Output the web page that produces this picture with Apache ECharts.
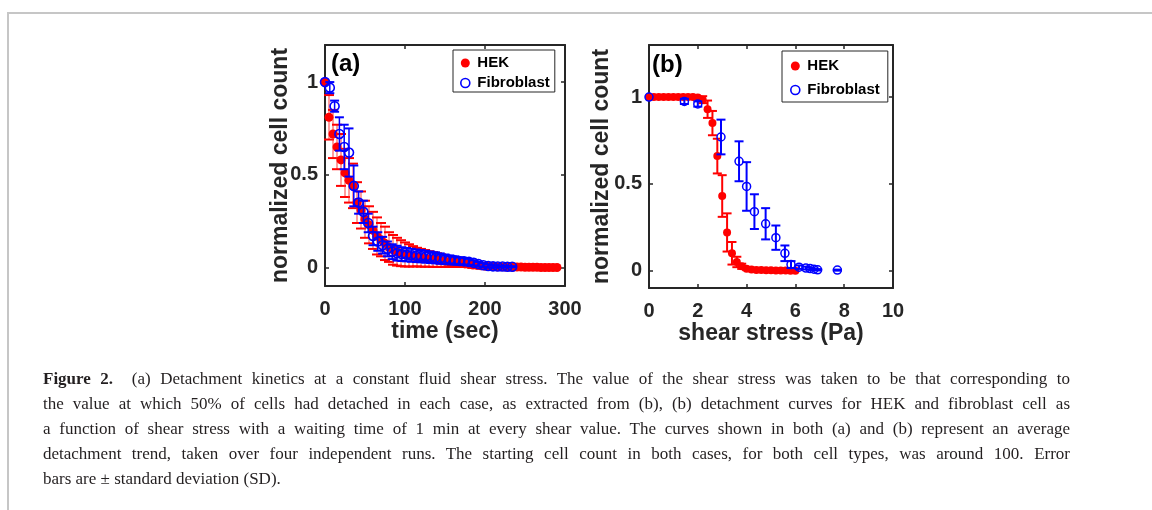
<!DOCTYPE html>
<html><head><meta charset="utf-8">
<script src="https://cdn.jsdelivr.net/npm/echarts@6/dist/echarts.min.js"></script>
<style>
html,body{margin:0;padding:0;background:#fff;}
#wrap{position:relative;width:1152px;height:510px;overflow:hidden;}
#chart{position:absolute;left:0;top:0;width:1152px;height:510px;}
#frame{position:absolute;left:7px;top:12px;width:1300px;height:700px;border-top:2px solid #c6c6c6;border-left:2px solid #c6c6c6;}
#caption{position:absolute;left:43px;top:366px;width:1027px;font-family:'Liberation Serif','DejaVu Serif',serif;font-size:17px;line-height:25px;color:#231f20;}
#caption div{text-align:justify;text-align-last:justify;height:25px;}
#caption div.last{text-align:left;text-align-last:left;}
</style>
</head><body>
<div id="wrap">
<div id="frame"></div>
<div id="chart"></div>
<div id="caption">
<div><b>Figure 2.</b>&nbsp; (a) Detachment kinetics at a constant fluid shear stress. The value of the shear stress was taken to be that corresponding to</div>
<div>the value at which 50% of cells had detached in each case, as extracted from (b), (b) detachment curves for HEK and fibroblast cell as</div>
<div>a function of shear stress with a waiting time of 1 min at every shear value. The curves shown in both (a) and (b) represent an average</div>
<div>detachment trend, taken over four independent runs. The starting cell count in both cases, for both cell types, was around 100. Error</div>
<div class="last">bars are ± standard deviation (SD).</div>
</div>
</div>
<script>
// ---------- Panel (a): detachment kinetics ----------
const hekTimeA = [0,5,10,15,20,25,30,35,40,45,50,55,60,65,70,75,80,85,90,95,100,105,110,115,120,125,130,135,140,145,150,155,160,165,170,175,180,185,190,195,200,205,210,215,220,225,230,235,240,245,250,255,260,265,270,275,280,285,290];
const hekCountA = [1.00,0.81,0.72,0.65,0.58,0.51,0.47,0.44,0.35,0.31,0.26,0.23,0.20,0.17,0.15,0.13,0.11,0.095,0.085,0.077,0.070,0.065,0.060,0.056,0.052,0.049,0.046,0.043,0.040,0.037,0.034,0.031,0.028,0.025,0.022,0.019,0.016,0.013,0.011,0.009,0.007,0.006,0.005,0.004,0.004,0.003,0.003,0.002,0.002,0.002,0.001,0.001,0.001,0.001,0,0,0,0,0];
const hekSdA = [0,0.12,0.13,0.12,0.14,0.13,0.12,0.12,0.11,0.10,0.10,0.10,0.10,0.10,0.09,0.09,0.08,0.08,0.075,0.07,0.065,0.06,0.055,0.05,0.048,0.045,0.042,0.04,0.037,0.034,0.031,0.028,0.025,0.022,0.019,0.016,0.013,0.011,0.009,0.007,0.006,0.005,0.004,0.004,0.003,0.003,0.002,0.002,0.002,0.001,0.001,0.001,0.001,0.001,0,0,0,0,0];

const fibTimeA = [0,6,12,18,24,30,36,42,48,54,60,66,72,78,84,90,96,102,108,114,120,126,132,138,144,150,156,162,168,174,180,186,192,198,204,210,216,222,228,234];
const fibCountA = [1.00,0.97,0.87,0.72,0.65,0.62,0.44,0.35,0.30,0.24,0.17,0.14,0.12,0.10,0.085,0.077,0.072,0.069,0.066,0.063,0.061,0.058,0.055,0.052,0.048,0.044,0.041,0.038,0.035,0.033,0.030,0.025,0.018,0.012,0.008,0.006,0.005,0.005,0.004,0.004];
const fibSdA = [0,0.03,0.03,0.09,0.12,0.13,0.11,0.06,0.06,0.05,0.05,0.05,0.045,0.04,0.04,0.04,0.037,0.036,0.035,0.034,0.033,0.032,0.031,0.03,0.028,0.026,0.024,0.022,0.02,0.018,0.016,0.014,0.012,0.01,0.008,0.006,0.005,0.004,0.004,0.003];

// ---------- Panel (b): detachment vs shear stress ----------
const hekStressB = [0,0.2,0.4,0.6,0.8,1.0,1.2,1.4,1.6,1.8,2.0,2.2,2.4,2.6,2.8,3.0,3.2,3.4,3.6,3.8,4.0,4.2,4.4,4.6,4.8,5.0,5.2,5.4,5.6,5.8,6.0];
const hekCountB = [1,1,1,1,1,1,1,1,1,1,0.998,0.985,0.93,0.85,0.66,0.43,0.22,0.10,0.05,0.025,0.011,0.006,0.004,0.003,0.002,0.002,0.001,0.001,0.001,0,0];
const hekSdB = [0,0,0,0,0,0,0,0,0,0,0.005,0.02,0.05,0.07,0.10,0.12,0.11,0.065,0.03,0.015,0.008,0.005,0.003,0.002,0.002,0.001,0.001,0.001,0.001,0,0];

const fibStressB = [0,1.45,2.0,2.95,3.69,4.0,4.32,4.78,5.2,5.57,5.82,6.15,6.43,6.6,6.76,6.91,7.72];
const fibCountB = [1.0,0.975,0.96,0.77,0.63,0.485,0.34,0.27,0.19,0.10,0.035,0.02,0.015,0.012,0.008,0.005,0.003];
const fibSdB = [0,0.015,0.015,0.10,0.115,0.14,0.10,0.09,0.07,0.045,0.02,0.01,0.008,0.006,0.005,0.004,0.003];

// ---------- Axis ticks / labels ----------
const yTickValues = [0, 0.5, 1];
const xNameA = 'time (sec)';
const xNameB = 'shear stress (Pa)';
const yName = 'normalized cell count';

const FONT = "'Liberation Sans', Arial, Helvetica, sans-serif";
const INK = '#262626';
const RED = '#ff0000';
const BLUE = '#0000ff';

function zip3(a, b, c) { return a.map((v, i) => [v, b[i], c[i]]); }
function zip2(a, b) { return a.map((v, i) => [v, b[i]]); }

function errRender(capColor, stemColor, capHalf, stemW, capW) {
  return function (params, api) {
    const x = api.value(0), y = api.value(1), s = api.value(2);
    if (!(s > 0)) return { type: 'group', children: [] };
    const p1 = api.coord([x, y + s]);
    const p2 = api.coord([x, y - s]);
    return {
      type: 'group',
      children: [
        { type: 'line', shape: { x1: p1[0], y1: p1[1], x2: p2[0], y2: p2[1] }, style: { stroke: stemColor, lineWidth: stemW } },
        { type: 'line', shape: { x1: p1[0] - capHalf, y1: p1[1], x2: p1[0] + capHalf, y2: p1[1] }, style: { stroke: capColor, lineWidth: capW } },
        { type: 'line', shape: { x1: p2[0] - capHalf, y1: p2[1], x2: p2[0] + capHalf, y2: p2[1] }, style: { stroke: capColor, lineWidth: capW } }
      ]
    };
  };
}

function xAxisPair(grid, min, max, interval, name) {
  const base = {
    gridIndex: grid, type: 'value', min: min, max: max, interval: interval,
    axisLine: { show: true, onZero: false, lineStyle: { color: INK, width: 2 } },
    axisTick: { show: true, inside: true, length: 4, lineStyle: { color: INK, width: 1.5 } },
    splitLine: { show: false }
  };
  return [
    Object.assign({}, base, {
      position: 'bottom',
      axisLabel: { show: true, margin: 13, color: INK, fontFamily: FONT, fontWeight: 'bold', fontSize: 20 },
      name: name, nameLocation: 'middle', nameGap: 34, nameMoveOverlap: false,
      nameTextStyle: { color: INK, fontFamily: FONT, fontWeight: 'bold', fontSize: 23 }
    }),
    Object.assign({}, base, { position: 'top', axisLabel: { show: false } })
  ];
}

function yAxisPair(grid, min, max, gap) {
  const base = {
    gridIndex: grid, type: 'value', min: min, max: max,
    axisLine: { show: true, onZero: false, lineStyle: { color: INK, width: 2 } },
    axisTick: { show: true, inside: true, length: 4, customValues: yTickValues, lineStyle: { color: INK, width: 1.5 } },
    splitLine: { show: false }
  };
  return [
    Object.assign({}, base, {
      position: 'left',
      axisLabel: { show: true, customValues: yTickValues, margin: 7, color: INK, fontFamily: FONT, fontWeight: 'bold', fontSize: 20,
        formatter: v => String(v) },
      name: yName, nameLocation: 'middle', nameGap: gap, nameMoveOverlap: false,
      nameTextStyle: { color: INK, fontFamily: FONT, fontWeight: 'bold', fontSize: 23 }
    }),
    Object.assign({}, base, { position: 'right', axisLabel: { show: false } })
  ];
}

const xa = xAxisPair(0, 0, 300, 100, xNameA);
const xb = xAxisPair(1, 0, 10, 2, xNameB);
const ya = yAxisPair(0, -0.1, 1.2, 33);
const yb = yAxisPair(1, -0.1, 1.3, 36);

function legendCfg(left, top, padding, itemGap, iconSize) {
  return {
    left: left, top: top, orient: 'vertical', selectedMode: false,
    itemWidth: 14, itemHeight: iconSize, itemGap: itemGap, padding: padding,
    borderColor: INK, borderWidth: 1, backgroundColor: '#fff', borderRadius: 0,
    textStyle: { fontFamily: FONT, fontWeight: 'bold', fontSize: 15, color: '#000', lineHeight: 16 },
    data: [
      { name: 'HEK', icon: 'circle', itemStyle: { color: RED, borderWidth: 0 } },
      { name: 'Fibroblast', icon: 'circle', itemStyle: { color: 'rgba(0,0,0,0)', borderColor: BLUE, borderWidth: 1.6 } }
    ]
  };
}

const chart = echarts.init(document.getElementById('chart'), null, { renderer: 'canvas' });
chart.setOption({
  animation: false,
  backgroundColor: 'transparent',
  grid: [
    { left: 325, top: 45, width: 240, height: 241 },
    { left: 649, top: 45, width: 244, height: 243 }
  ],
  xAxis: [xa[0], xa[1], xb[0], xb[1]],
  yAxis: [ya[0], ya[1], yb[0], yb[1]],
  legend: [
    legendCfg(453, 50, [5, 5, 1, 7], 4, 9),
    legendCfg(782, 51, [7, 8, 4, 8], 8, 9)
  ],
  graphic: [
    { type: 'text', x: 331, y: 64, z: 50, style: { text: '(a)', font: "bold 24px 'Liberation Sans', Arial, sans-serif", fill: '#000', verticalAlign: 'middle', align: 'left' } },
    { type: 'text', x: 652, y: 65, z: 50, style: { text: '(b)', font: "bold 24px 'Liberation Sans', Arial, sans-serif", fill: '#000', verticalAlign: 'middle', align: 'left' } }
  ],
  series: [
    { type: 'custom', name: 'HEK SD a', xAxisIndex: 0, yAxisIndex: 0, z: 1, silent: true, clip: false,
      encode: { x: 0, y: 1 }, data: zip3(hekTimeA, hekCountA, hekSdA),
      renderItem: errRender(RED, 'rgba(255,40,40,0.65)', 5, 1.4, 2) },
    { type: 'scatter', name: 'HEK', xAxisIndex: 0, yAxisIndex: 0, z: 2, symbol: 'circle', symbolSize: 9,
      itemStyle: { color: RED, opacity: 1 }, data: zip2(hekTimeA, hekCountA) },
    { type: 'custom', name: 'Fibroblast SD a', xAxisIndex: 0, yAxisIndex: 0, z: 3, silent: true, clip: false,
      encode: { x: 0, y: 1 }, data: zip3(fibTimeA, fibCountA, fibSdA),
      renderItem: errRender(BLUE, BLUE, 4.5, 1.5, 2) },
    { type: 'scatter', name: 'Fibroblast', xAxisIndex: 0, yAxisIndex: 0, z: 4, symbol: 'circle', symbolSize: 9,
      itemStyle: { color: 'rgba(0,0,0,0)', borderColor: BLUE, borderWidth: 1.6, opacity: 1 }, data: zip2(fibTimeA, fibCountA) },

    { type: 'custom', name: 'HEK SD b', xAxisIndex: 2, yAxisIndex: 2, z: 1, silent: true, clip: false,
      encode: { x: 0, y: 1 }, data: zip3(hekStressB, hekCountB, hekSdB),
      renderItem: errRender(RED, RED, 4.5, 2, 2) },
    { type: 'scatter', name: 'HEK', xAxisIndex: 2, yAxisIndex: 2, z: 2, symbol: 'circle', symbolSize: 8,
      itemStyle: { color: RED, opacity: 1 }, data: zip2(hekStressB, hekCountB) },
    { type: 'custom', name: 'Fibroblast SD b', xAxisIndex: 2, yAxisIndex: 2, z: 3, silent: true, clip: false,
      encode: { x: 0, y: 1 }, data: zip3(fibStressB, fibCountB, fibSdB),
      renderItem: errRender(BLUE, BLUE, 4.5, 2, 2) },
    { type: 'scatter', name: 'Fibroblast', xAxisIndex: 2, yAxisIndex: 2, z: 4, symbol: 'circle', symbolSize: 8,
      itemStyle: { color: 'rgba(0,0,0,0)', borderColor: BLUE, borderWidth: 1.5, opacity: 1 }, data: zip2(fibStressB, fibCountB) }
  ]
});
</script>
</body></html>
